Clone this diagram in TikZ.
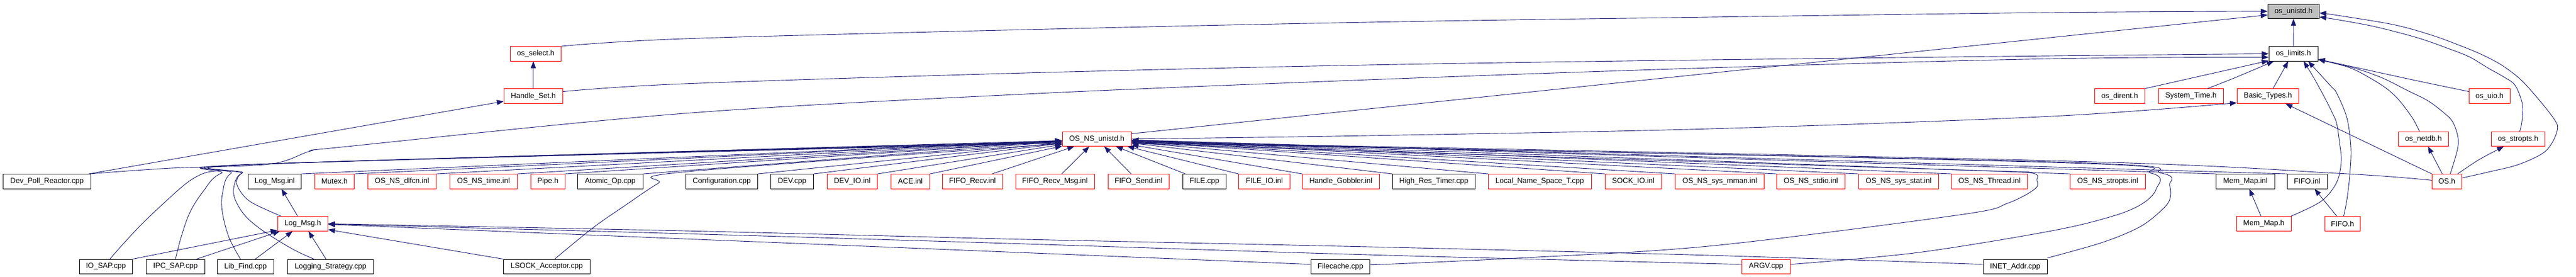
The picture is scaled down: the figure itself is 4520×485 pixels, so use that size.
\documentclass[tikz,border=0pt]{standalone}
\usepackage{fontspec}
\setmainfont{Liberation Sans}
\usetikzlibrary{arrows.meta}
\definecolor{edgeblue}{HTML}{191970}
\definecolor{nodered}{HTML}{FF0000}
\definecolor{grayfill}{HTML}{BFBFBF}
\begin{document}
\begin{tikzpicture}[x=1pt,y=-1pt,
  nodebase/.style={rectangle, draw, line width=1pt, inner sep=0pt, minimum height=25.5pt, fill=white, font=\fontsize{13pt}{15pt}\selectfont, text=black},
  rbox/.style={nodebase, draw=nodered},
  kbox/.style={nodebase, draw=black},
  gbox/.style={nodebase, draw=black, fill=grayfill},
  edge/.style={draw=edgeblue, line width=0.9pt, -{Triangle[length=12pt,width=9pt]}},
  sm/.style={smooth, tension=0.55}
]
\useasboundingbox (0,0) rectangle (4520,485);
% row A
\node[gbox, minimum width=90pt] (U) at (4024.3,19.8) {os\_unistd.h};
% row B
\node[rbox, minimum width=89pt] (sel) at (940,94.3) {os\_select.h};
\node[kbox, minimum width=86pt] (lim) at (4024,94.3) {os\_limits.h};
% row C
\node[rbox, minimum width=103pt] (hset) at (935.8,168.6) {Handle\_Set.h};
\node[rbox, minimum width=88pt] (dirent) at (3719.3,168.6) {os\_dirent.h};
\node[rbox, minimum width=114pt] (systime) at (3844.3,168.6) {System\_Time.h};
\node[rbox, minimum width=108pt] (btypes) at (3979.3,168.6) {Basic\_Types.h};
\node[rbox, minimum width=72pt] (uio) at (4368.3,168.6) {os\_uio.h};
% row D
\node[rbox, minimum width=121pt] (osu) at (1924.5,243.8) {OS\_NS\_unistd.h};
\node[rbox, minimum width=88pt] (netdb) at (4252.3,243.8) {os\_netdb.h};
\node[rbox, minimum width=94pt] (strh) at (4418.3,243.8) {os\_stropts.h};
% row E
\node[kbox, minimum width=154pt] (devpoll) at (82.5,318.3) {Dev\_Poll\_Reactor.cpp};
\node[kbox, minimum width=93pt] (lminl) at (482,318.3) {Log\_Msg.inl};
\node[rbox, minimum width=69pt] (mutex) at (587,318.3) {Mutex.h};
\node[rbox, minimum width=120pt] (dlfcn) at (705.4,318.3) {OS\_NS\_dlfcn.inl};
\node[rbox, minimum width=118pt] (time) at (848.4,318.3) {OS\_NS\_time.inl};
\node[rbox, minimum width=60pt] (pipe) at (961.3,318.3) {Pipe.h};
\node[kbox, minimum width=115pt] (atomic) at (1070.7,318.3) {Atomic\_Op.cpp};
\node[kbox, minimum width=126pt] (config) at (1266.4,318.3) {Configuration.cpp};
\node[kbox, minimum width=75pt] (dev) at (1389.8,318.3) {DEV.cpp};
\node[rbox, minimum width=88pt] (devio) at (1495.4,318.3) {DEV\_IO.inl};
\node[rbox, minimum width=68pt] (aceinl) at (1597.4,318.3) {ACE.inl};
\node[rbox, minimum width=106pt] (frecv) at (1706.3,318.3) {FIFO\_Recv.inl};
\node[rbox, minimum width=138pt] (frmsg) at (1851,318.3) {FIFO\_Recv\_Msg.inl};
\node[rbox, minimum width=107pt] (fsend) at (1997.8,318.3) {FIFO\_Send.inl};
\node[kbox, minimum width=76pt] (file) at (2113.3,318.3) {FILE.cpp};
\node[rbox, minimum width=90pt] (fileio) at (2218.5,318.3) {FILE\_IO.inl};
\node[rbox, minimum width=135pt] (hgob) at (2352.8,318.3) {Handle\_Gobbler.inl};
\node[kbox, minimum width=145pt] (hrt) at (2515.8,318.3) {High\_Res\_Timer.cpp};
\node[rbox, minimum width=181pt] (lns) at (2701.7,318.3) {Local\_Name\_Space\_T.cpp};
\node[rbox, minimum width=99pt] (sockio) at (2865.8,318.3) {SOCK\_IO.inl};
\node[rbox, minimum width=156pt] (mman) at (3017.5,318.3) {OS\_NS\_sys\_mman.inl};
\node[rbox, minimum width=120pt] (stdio) at (3177.4,318.3) {OS\_NS\_stdio.inl};
\node[rbox, minimum width=140pt] (sstat) at (3331.4,318.3) {OS\_NS\_sys\_stat.inl};
\node[rbox, minimum width=133pt] (thread) at (3490.8,318.3) {OS\_NS\_Thread.inl};
\node[rbox, minimum width=132pt] (stropts) at (3698.3,318.3) {OS\_NS\_stropts.inl};
\node[kbox, minimum width=103pt] (mminl) at (3939.8,318.3) {Mem\_Map.inl};
\node[kbox, minimum width=70pt] (fifoinl) at (4048.3,318.3) {FIFO.inl};
\node[rbox, minimum width=52pt] (osh) at (4293.3,318.3) {OS.h};
% row F
\node[rbox, minimum width=88pt] (lmh) at (531.3,392.6) {Log\_Msg.h};
\node[rbox, minimum width=96pt] (mmh) at (3972.3,392.6) {Mem\_Map.h};
\node[rbox, minimum width=62pt] (fifoh) at (4110.3,392.6) {FIFO.h};
% row G
\node[kbox, minimum width=93pt] (iosap) at (185.8,467.8) {IO\_SAP.cpp};
\node[kbox, minimum width=103pt] (ipcsap) at (307.9,467.8) {IPC\_SAP.cpp};
\node[kbox, minimum width=99pt] (libfind) at (430.9,467.8) {Lib\_Find.cpp};
\node[kbox, minimum width=151pt] (logstrat) at (580,467.8) {Logging\_Strategy.cpp};
\node[kbox, minimum width=151.5pt] (lsock) at (959.3,467.8) {LSOCK\_Acceptor.cpp};
\node[kbox, minimum width=103pt] (filecache) at (2352,467.8) {Filecache.cpp};
\node[rbox, minimum width=85pt] (argv) at (3098.8,467.8) {ARGV.cpp};
\node[kbox, minimum width=112pt] (inet) at (3536,467.8) {INET\_Addr.cpp};

% ---- edges to os_unistd.h
\draw[edge] plot[sm] coordinates {(sel.north east) (1200,68) (1800,52) (2400,39) (3000,30) (3600,22) (U.west)};
\draw[edge] (lim.north) -- (U.south);
\draw[edge] ([yshift=-4pt]osu.north east) -- (U.188);
\draw[edge] plot[sm] coordinates {([yshift=6pt]osh.east) (4366.7,301.7) (4420,288.3) (4466.7,265) (4486.7,230) (4480,206.7) (4430,146.7) (4393.3,116.7) (4356.7,96.7) (4316.7,80) (4266.7,61.7) (4200,43.3) (4100,26.7) ([yshift=-3pt]U.east)};
\draw[edge] plot[sm] coordinates {([xshift=3pt]strh.north) (4425,213.3) (4426,183.3) (4413.3,150) (4393.3,135) (4366.7,120) (4333.3,100) (4300,86.7) (4243.3,66.7) (4166.7,46.7) (4100,34.3) ([yshift=-10pt]U.east)};
% ---- edges to os_select.h / Handle_Set.h
\draw[edge] (hset.north) -- (hset.north |- sel.south);
\draw[edge] ([xshift=-4pt]devpoll.north east) -- (hset.190);
% ---- edges to os_limits.h
\draw[edge] plot[sm] coordinates {([yshift=8pt]hset.east) (1200,147) (1800,128) (2400,114) (3000,105) (3600,98) (lim.west)};
\draw[edge] plot[sm] coordinates {([xshift=-4pt]devpoll.north east) (300,295) (473,288) (545,265) (600,258) (1200,199) (1800,165) (2400,140) (3000,119) (3600,103) (lim.188)};
\draw[edge] (dirent.north east) -- ([yshift=1pt]lim.south west);
\draw[edge] plot[sm] coordinates {([xshift=29pt]systime.north) (3920,137) ([xshift=9pt]lim.south west)};
\draw[edge] ([xshift=9pt]btypes.north) -- ([xshift=-9pt]lim.south);
\draw[edge] plot[sm] coordinates {([xshift=-1pt]mmh.north east) (4073,353) (4100,320) (4108,283) (4105,250) (4100,216.7) (4093.3,200) (4080,173.3) (4060,136.7) ([xshift=18pt]lim.south)};
\draw[edge] plot[sm] coordinates {([xshift=2pt]fifoh.north) (4118,350) (4123,307) (4125,260) (4118,207) (4100,163.3) (4091.7,153.3) (4076.7,136.7) ([xshift=26pt]lim.south)};
\draw[edge] plot[sm] coordinates {([yshift=8pt]uio.west) (4233,140) (4100,111) ([yshift=-10pt]lim.east)};
\draw[edge] plot[sm] coordinates {([xshift=-7pt]netdb.north) (4233,207) (4207,173) (4180,150) (4133,123) (4100,112) ([yshift=-10pt]lim.east)};
\draw[edge] plot[sm] coordinates {([xshift=6pt]osh.north) (4311.7,263.3) (4312.7,240) (4303.3,213.3) (4286.7,196.7) (4260,176.7) (4226.7,160) (4180,136.7) (4133.3,120) (4100,112) ([yshift=-10pt]lim.east)};
% ---- edges to Basic_Types.h
\draw[edge] plot[sm] coordinates {(osu.east) (2400,238) (3000,226) (3600,204) ([yshift=1.5pt]btypes.south west)};
\draw[edge] (osh.north west) -- ([xshift=31pt]btypes.south);
% ---- OS.h to os_netdb.h, os_stropts.h
\draw[edge] ([xshift=-8pt]osh.north) -- ([xshift=8pt]netdb.south);
\draw[edge] plot[sm] coordinates {([xshift=19pt]osh.north) (4350,280) ([xshift=-25pt]strh.south)};
% ---- edges to OS_NS_unistd.h from row E
\draw[edge] (lminl.north east) -- (osu);
\draw[edge] (mutex.north east) -- (osu);
\draw[edge] (dlfcn.north east) -- (osu);
\draw[edge] (time.north east) -- (osu);
\draw[edge] (pipe.north east) -- (osu);
\draw[edge] (atomic.north east) -- (osu);
\draw[edge] (config.north east) -- (osu);
\draw[edge] (dev.north east) -- (osu);
\draw[edge] (devio.north east) -- (osu);
\draw[edge] (aceinl.north east) -- (osu);
\draw[edge] ([xshift=-19pt]frecv.north east) -- (osu);
\draw[edge] ([xshift=12pt]frmsg.north) -- (osu);
\draw[edge] ([xshift=-13pt]fsend.north) -- (osu);
\draw[edge] ([xshift=5pt]file.north west) -- (osu);
\draw[edge] (fileio.north west) -- (osu);
\draw[edge] (hgob.north west) -- (osu);
\draw[edge] (hrt.north west) -- (osu);
\draw[edge] (lns.north west) -- (osu);
\draw[edge] (sockio.north west) -- (osu);
\draw[edge] (mman.north west) -- (osu);
\draw[edge] (stdio.north west) -- (osu);
\draw[edge] (sstat.north west) -- (osu);
\draw[edge] (thread.north west) -- (osu);
\draw[edge] (stropts.north west) -- (osu);
\draw[edge] (mminl.north west) -- (osu);
\draw[edge] (fifoinl.north west) -- (osu);
\draw[edge] plot[sm] coordinates {([yshift=2pt]osh.west) (4100,304) (3600,282) ([yshift=-5pt]osu.east)};
% ---- edges to OS_NS_unistd.h from lower rows
\draw[edge] plot[sm] coordinates {([xshift=7pt]iosap.north) (214.3,430) (248.7,393.3) (290.8,353.3) (329,320) (357.8,304) (386,299) (474.5,287.3) ([yshift=-3pt]osu.west)};
\draw[edge] plot[sm] coordinates {(ipcsap.north) (317.6,416.7) (332.9,373.3) (355.9,336.7) (388.4,304) (474.5,287.3) ([yshift=-4pt]osu.west)};
\draw[edge] plot[sm] coordinates {([xshift=-9pt]libfind.north) (401.8,416.7) (390.3,373.3) (390.3,340) (405.6,304) (474.5,287.3) ([yshift=-5pt]osu.west)};
\draw[edge] plot[sm] coordinates {([xshift=-29pt]logstrat.north) (512.8,436.7) (459.2,403.3) (428.6,376.7) (411.4,346.7) (411.4,323.3) (424,304) (474.5,287.3) ([yshift=-6pt]osu.west)};
\draw[edge] plot[sm] coordinates {([xshift=6.5pt]lmh.north west) (443.9,356.7) (424.8,340) (415.2,320) (426,303) (474.5,287.3) ([yshift=-7pt]osu.west)};
\draw[edge] plot[sm] coordinates {([xshift=14pt]lsock.north) (1040,400) (1097.5,360) (1154.9,321.7) (1200,301.7) ([yshift=-8pt]osu.west)};
\draw[edge] plot[sm] coordinates {([yshift=3pt]filecache.east) (2660,453) (3000,431.7) (3440,376.7) (3522.4,356.7) (3570.2,331.7) (3574,316.7) (3558.7,302.7) (3400,297) ([yshift=-8pt]osu.east)};
\draw[edge] plot[sm] coordinates {([yshift=4pt]argv.east) (3363.5,443.3) (3600,405) (3710,378.3) (3760,356.7) (3783.3,331.7) (3775,304) (3600,285) ([yshift=-6pt]osu.east)};
\draw[edge] plot[sm] coordinates {([yshift=2pt]inet.north east) (3690,425) (3757,396.7) (3798.3,363.3) (3808.3,345) (3806.7,325) (3793.3,304) (3600,284) ([yshift=-7pt]osu.east)};
% ---- edges to Log_Msg.h
\draw[edge] (iosap.north east) -- ([yshift=2pt]lmh.south west);
\draw[edge] ([xshift=-15pt]ipcsap.north east) -- ([xshift=4pt]lmh.south west);
\draw[edge] ([xshift=17pt]libfind.north) -- ([xshift=-18pt]lmh.south);
\draw[edge] ([xshift=-8pt]logstrat.north) -- ([xshift=10pt]lmh.south);
\draw[edge] (lsock.north west) -- ([yshift=3pt]lmh.south east);
\draw[edge] ([yshift=4pt]filecache.west) -- ([yshift=-1pt]lmh.east);
\draw[edge] plot[sm] coordinates {([yshift=4pt]argv.west) (2400,447) (1800,428) (1200,410) ([yshift=-0.5pt]lmh.east)};
\draw[edge] plot[sm] coordinates {([yshift=4pt]inet.west) (3000,448) (2400,433) (1800,420) (1200,405) (lmh.east)};
% ---- other
\draw[edge] ([xshift=-9pt]lmh.north) -- ([xshift=12pt]lminl.south);
\draw[edge] ([xshift=-5pt]mmh.north) -- ([xshift=7pt]mminl.south);
\draw[edge] ([xshift=-10pt]fifoh.north) -- ([xshift=13pt]fifoinl.south);
\end{tikzpicture}
\end{document}
